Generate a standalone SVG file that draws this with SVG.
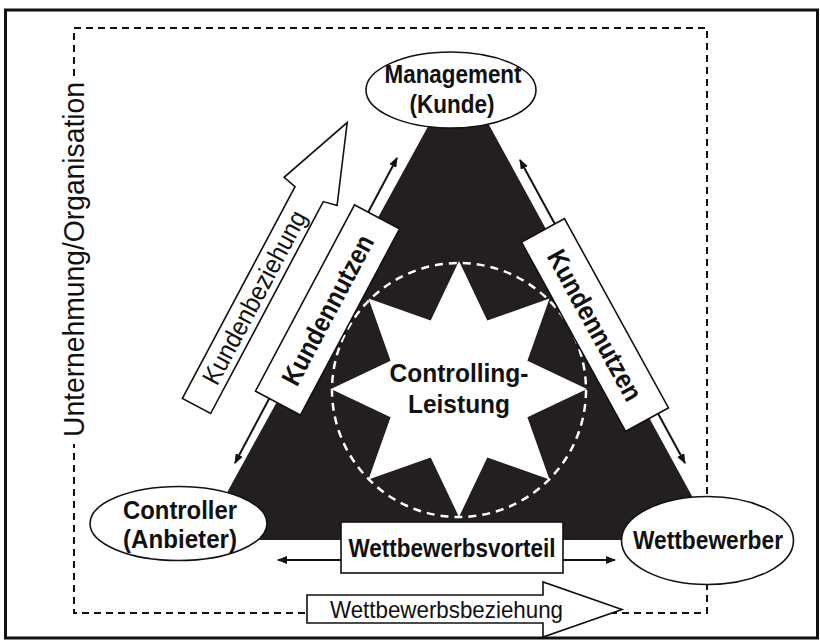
<svg xmlns="http://www.w3.org/2000/svg" width="820" height="643" viewBox="0 0 820 643">
  <style>
    .t { font-family: "Liberation Sans", Arial, Helvetica, sans-serif; fill: #111; }
    .b { font-weight: bold; }
    .n { font-weight: normal; }
    .node { fill: #fff; stroke: #111; stroke-width: 1.6; }
    .conn { stroke: #111; stroke-width: 2; fill: none; marker-start: url(#ah); marker-end: url(#ah); }
  </style>
  <defs>
    <marker id="ah" viewBox="0 0 10 8" refX="9" refY="4" markerWidth="10" markerHeight="8" markerUnits="userSpaceOnUse" orient="auto-start-reverse">
      <path d="M0,0 L10,4 L0,8 z" fill="#111"/>
    </marker>
  </defs>
  <rect width="820" height="643" fill="#fff"/>
  <!-- outer frame -->
  <rect x="5.5" y="10" width="812" height="628" fill="none" stroke="#111" stroke-width="3"/>
  <!-- dashed organisation boundary -->
  <g id="organisation">
    <rect x="74" y="28" width="633" height="585" fill="none" stroke="#111" stroke-width="2" stroke-dasharray="7 5"/>
    <rect x="62" y="78" width="28" height="366" fill="#fff"/>
    <text class="t n" transform="translate(84,259.5) rotate(-90)" x="0" y="0" text-anchor="middle" font-size="29" textLength="355" lengthAdjust="spacingAndGlyphs">Unternehmung/Organisation</text>
  </g>
  <!-- black triangle -->
  <g id="triangle">
    <polygon points="459,70 716,540 201,540" fill="#231f20"/>
  </g>
  <!-- star -->
  <g id="controlling-leistung">
    <polygon points="459,261 487.3,320.6 549.5,298.5 527.4,360.7 587,389 527.4,417.3 549.5,479.5 487.3,457.4 459,517 430.7,457.4 368.5,479.5 390.6,417.3 331,389 390.6,360.7 368.5,298.5 430.7,320.6" fill="#fff"/>
    <circle cx="459" cy="390" r="127" fill="none" stroke="#fff" stroke-width="2.5" stroke-dasharray="8 6"/>
    <text class="t b" x="459" y="382" text-anchor="middle" font-size="26" textLength="139" lengthAdjust="spacingAndGlyphs">Controlling-</text>
    <text class="t b" x="459" y="413" text-anchor="middle" font-size="26" textLength="102" lengthAdjust="spacingAndGlyphs">Leistung</text>
  </g>
  <!-- connectors -->
  <g id="connectors">
    <line class="conn" x1="235" y1="463" x2="397" y2="158"/>
    <line class="conn" x1="520" y1="160" x2="685" y2="463"/>
    <line class="conn" x1="278" y1="560" x2="615" y2="560"/>
  </g>
  <!-- Kundennutzen left -->
  <g id="kundennutzen-links" transform="translate(327.5,310) rotate(-62)">
    <rect class="node" x="-105.5" y="-25.5" width="211" height="51"/>
    <text class="t b" x="0" y="9.5" text-anchor="middle" font-size="27" textLength="166" lengthAdjust="spacingAndGlyphs">Kundennutzen</text>
  </g>
  <!-- Kundennutzen right -->
  <g id="kundennutzen-rechts" transform="translate(595,325) rotate(61.2)">
    <rect class="node" x="-108" y="-24.5" width="216" height="49"/>
    <text class="t b" x="0" y="9.5" text-anchor="middle" font-size="27" textLength="168" lengthAdjust="spacingAndGlyphs">Kundennutzen</text>
  </g>
  <!-- Wettbewerbsvorteil -->
  <g id="wettbewerbsvorteil">
    <rect class="node" x="341" y="522" width="222" height="51"/>
    <text class="t b" x="452" y="557" text-anchor="middle" font-size="26" textLength="207" lengthAdjust="spacingAndGlyphs">Wettbewerbsvorteil</text>
  </g>
  <!-- Kundenbeziehung big arrow -->
  <g id="kundenbeziehung" transform="translate(196.5,406) rotate(-62)">
    <polygon class="node" points="0,-16 240,-16 243,-30 321,0 243,30 240,16 0,16"/>
    <text class="t n" x="123" y="9" text-anchor="middle" font-size="26" textLength="193" lengthAdjust="spacingAndGlyphs">Kundenbeziehung</text>
  </g>
  <!-- Wettbewerbsbeziehung big arrow -->
  <g id="wettbewerbsbeziehung">
    <polygon class="node" points="307,595 543,595 543,582 622,609.5 543,637 543,623 307,623"/>
    <text class="t n" x="446.5" y="618" text-anchor="middle" font-size="24" textLength="233" lengthAdjust="spacingAndGlyphs">Wettbewerbsbeziehung</text>
  </g>
  <!-- Management -->
  <g id="management">
    <ellipse class="node" cx="451" cy="90" rx="85" ry="38"/>
    <text class="t b" x="453" y="83" text-anchor="middle" font-size="26" textLength="137" lengthAdjust="spacingAndGlyphs">Management</text>
    <text class="t b" x="452" y="113" text-anchor="middle" font-size="26" textLength="85" lengthAdjust="spacingAndGlyphs">(Kunde)</text>
  </g>
  <!-- Controller -->
  <g id="controller">
    <ellipse class="node" cx="178.5" cy="523.5" rx="88.5" ry="37"/>
    <text class="t b" x="180" y="519" text-anchor="middle" font-size="25" textLength="114" lengthAdjust="spacingAndGlyphs">Controller</text>
    <text class="t b" x="180" y="548" text-anchor="middle" font-size="25" textLength="114" lengthAdjust="spacingAndGlyphs">(Anbieter)</text>
  </g>
  <!-- Wettbewerber -->
  <g id="wettbewerber">
    <ellipse class="node" cx="707.5" cy="540.5" rx="86" ry="44"/>
    <text class="t b" x="708" y="549" text-anchor="middle" font-size="25" textLength="150" lengthAdjust="spacingAndGlyphs">Wettbewerber</text>
  </g>
</svg>
